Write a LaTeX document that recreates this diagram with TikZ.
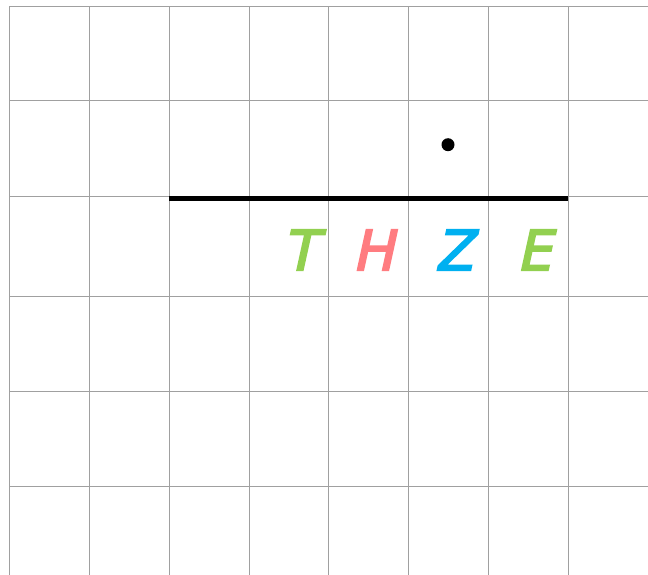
\documentclass[tikz,border=0pt]{standalone}
\usepackage{fontspec}
\setmainfont{DejaVu Sans}
\newfontfamily\letterfont{DejaVu Sans}[FakeSlant=0.22,FakeBold=3.5]
\definecolor{gridgray}{HTML}{A0A0A0}
\definecolor{lgreen}{HTML}{92D050}
\definecolor{lpink}{HTML}{FF7C80}
\definecolor{lblue}{HTML}{00B0F0}
\begin{document}
\begin{tikzpicture}[x=1pt,y=-1pt,
  gridline/.style={draw=gridgray,line width=1pt},
  letter/.style={font=\letterfont\fontsize{55}{55}\selectfont,inner sep=0pt,anchor=center}]
\useasboundingbox (0,0) rectangle (648,575);
\fill[white] (0,0) rectangle (648,575);
\foreach \x in {9,89,169,249,328,408,488,568}
  \draw[gridline] (\x,7) -- (\x,575);
\foreach \y in {7,101,196,296,391,486}
  \draw[gridline] (9,\y) -- (648,\y);
\coordinate (ls) at (169,198.7);
\coordinate (le) at (568,198.7);
\draw[line width=5.5pt,black] (ls) -- (le);
\fill[black] (448,144.7) circle (6.5);
\node[letter,text=lgreen] (t) at (300,250) {T};
\node[letter,text=lpink] (h) at (373,250) {H};
\node[letter,text=lblue] (z) at (454,250) {Z};
\node[letter,text=lgreen] (e) at (534,250) {E};
\end{tikzpicture}
\end{document}
